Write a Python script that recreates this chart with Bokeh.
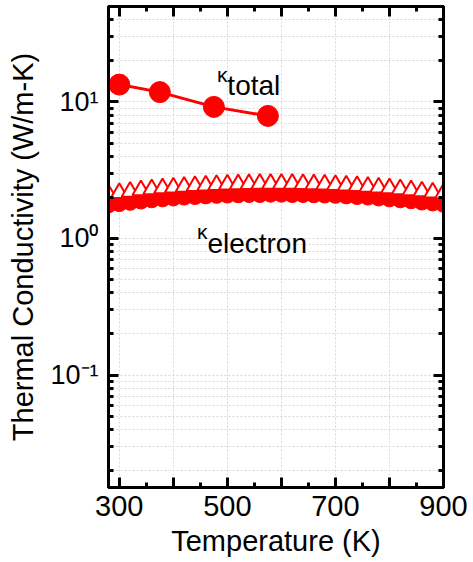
from bokeh.plotting import figure
from bokeh.models import LinearAxis, LogAxis, FixedTicker, Label, Range1d
from bokeh.embed import file_html
from bokeh.resources import INLINE

# Total thermal conductivity (W/m-K)
t_total = [300, 375, 475, 575]
k_total = [13.4, 11.8, 9.2, 7.9]

# Electronic contribution, two estimates (20 K steps)
t_elec = [280, 300, 320, 340, 360, 380, 400, 420, 440, 460, 480, 500, 520, 540, 560, 580,
          600, 620, 640, 660, 680, 700, 720, 740, 760, 780, 800, 820, 840, 860, 880, 900]
k_elec_filled = [1.76, 1.80, 1.84, 1.88, 1.92, 1.95, 1.98, 2.01, 2.03, 2.05, 2.07, 2.08,
                 2.09, 2.10, 2.10, 2.11, 2.11, 2.10, 2.10, 2.09, 2.08, 2.07, 2.05, 2.03,
                 2.01, 1.98, 1.95, 1.92, 1.89, 1.85, 1.82, 1.78]
k_elec_open = [2.10, 2.15, 2.20, 2.25, 2.29, 2.33, 2.36, 2.39, 2.42, 2.44, 2.46, 2.48,
               2.49, 2.50, 2.51, 2.51, 2.51, 2.51, 2.50, 2.49, 2.48, 2.46, 2.44, 2.42,
               2.39, 2.36, 2.33, 2.29, 2.25, 2.21, 2.17, 2.13]

x_major = [300, 400, 500, 600, 700, 800, 900]
x_minor = [350, 450, 550, 650, 750, 850]
x_labels = {400: "", 600: "", 800: ""}
y_major = [0.1, 1, 10]
y_minor = [0.02, 0.03, 0.04, 0.05, 0.06, 0.07, 0.08, 0.09,
           0.2, 0.3, 0.4, 0.5, 0.6, 0.7, 0.8, 0.9,
           2, 3, 4, 5, 6, 7, 8, 9, 20, 30, 40, 50]
y_labels = {0.1: "10\u207b\u00b9", 1: "10\u2070", 10: "10\u00b9"}

FONT = "Liberation Sans"
RED = "#ff0000"

p = figure(width=473, height=562, y_axis_type="log",
           x_range=Range1d(280, 900), y_range=Range1d(0.015, 50),
           output_backend="svg", toolbar_location=None,
           min_border_left=108, min_border_right=30,
           min_border_top=6, min_border_bottom=75)
p.background_fill_color = "white"
p.border_fill_color = "white"
p.outline_line_color = "black"
p.outline_line_width = 3

# grid: dotted, vertical at major ticks, horizontal at major + minor
p.xgrid.ticker = FixedTicker(ticks=x_major)
p.ygrid.ticker = FixedTicker(ticks=y_major, minor_ticks=y_minor)
for g in (p.xgrid, p.ygrid):
    g.grid_line_color = "#d8d8d8"
    g.grid_line_dash = "2 2"
    g.grid_line_width = 1
p.ygrid.minor_grid_line_color = "#d8d8d8"
p.ygrid.minor_grid_line_dash = "2 2"


def style_axis(ax):
    ax.axis_line_width = 3
    ax.axis_line_color = "black"
    ax.major_tick_in = 10
    ax.major_tick_out = 0
    ax.minor_tick_in = 5
    ax.minor_tick_out = 0
    ax.major_tick_line_width = 3
    ax.minor_tick_line_width = 3
    ax.major_tick_line_color = "black"
    ax.minor_tick_line_color = "black"
    ax.major_label_text_font = FONT
    ax.axis_label_text_font = FONT
    ax.axis_label_text_font_style = "normal"
    ax.axis_label_text_color = "black"
    ax.major_label_text_color = "black"


xa = p.xaxis[0]
xa.ticker = FixedTicker(ticks=x_major, minor_ticks=x_minor)
xa.major_label_overrides = x_labels
style_axis(xa)
xa.major_label_text_font_size = "29px"
xa.major_label_standoff = 8
xa.axis_label = "Temperature (K)"
xa.axis_label_text_font_size = "29px"
xa.axis_label_standoff = 6

ya = p.yaxis[0]
ya.ticker = FixedTicker(ticks=y_major, minor_ticks=y_minor)
ya.major_label_overrides = y_labels
style_axis(ya)
ya.major_label_text_font_size = "27px"
ya.major_label_standoff = 10
ya.axis_label = "Thermal Conductivity (W/m-K)"
ya.axis_label_text_font_size = "29px"
ya.axis_label_standoff = 8

# mirrored tick marks on the top and right edges, no labels
top = LinearAxis(ticker=FixedTicker(ticks=x_major, minor_ticks=x_minor))
style_axis(top)
top.major_label_overrides = {t: "" for t in x_major}
p.add_layout(top, "above")
right = LogAxis(ticker=FixedTicker(ticks=y_major, minor_ticks=y_minor))
style_axis(right)
right.major_label_overrides = {t: "" for t in y_major}
p.add_layout(right, "right")

# electronic thermal conductivity
p.scatter(t_elec, k_elec_filled, marker="circle", size=16,
          fill_color=RED, line_color=RED, line_width=1)
p.scatter(t_elec, k_elec_open, marker="triangle", size=17,
          fill_color="white", line_color=RED, line_width=2)

# total thermal conductivity
p.line(t_total, k_total, line_color=RED, line_width=3)
p.scatter(t_total, k_total, marker="circle", size=21,
          fill_color=RED, line_color=RED, line_width=1)

# series annotations
def note(x, y, text, size):
    p.add_layout(Label(x=x, y=y, text=text, text_font=FONT, text_font_size=size,
                       text_color="black", text_baseline="alphabetic"))


note(481, 16.0, "\u03ba", "21px")
note(500, 13.1, "total", "28px")
note(444, 1.125, "\u03ba", "21px")
note(463, 0.92, "electron", "28px")

open("out.html", "w").write(file_html(p, INLINE))
